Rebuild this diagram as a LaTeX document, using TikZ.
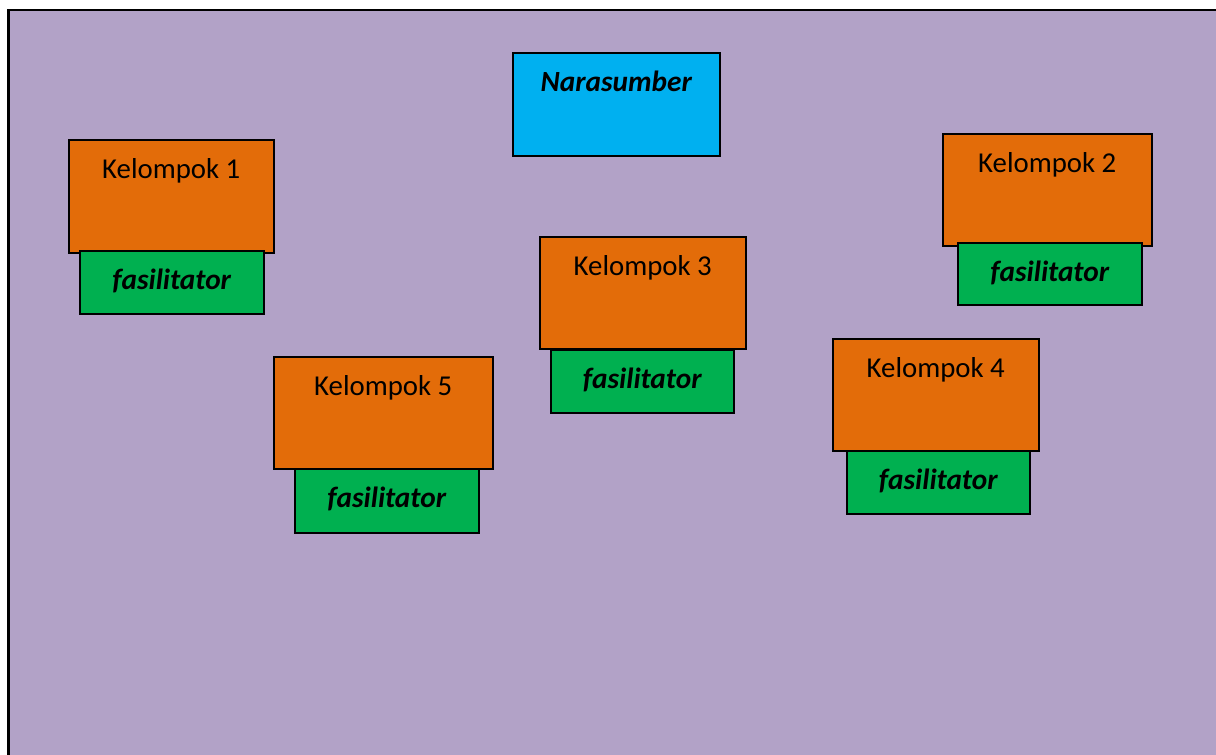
\documentclass[tikz,border=0pt]{standalone}
\usepackage{fontspec}
\setmainfont{Carlito}
\usetikzlibrary{calc}
\definecolor{lav}{HTML}{B2A2C7}
\definecolor{korange}{HTML}{E36C09}
\definecolor{fgreen}{HTML}{00B050}
\definecolor{nblue}{HTML}{00B0F0}
\tikzset{
  box/.style={draw=black, line width=1.5pt, anchor=north west, inner sep=0pt},
  kbox/.style={box, fill=korange},
  fbox/.style={box, fill=fgreen},
  nbox/.style={box, fill=nblue},
  ktext/.style={anchor=base, inner sep=0pt, font=\fontsize{28.8}{33}\selectfont},
  ftext/.style={anchor=base, inner sep=0pt, font=\fontsize{29.3}{33}\selectfont\bfseries\itshape},
}
\begin{document}
\begin{tikzpicture}[x=1pt,y=-1pt]
\useasboundingbox (0,0) rectangle (1216,755);
\begin{scope}
\clip (0,0) rectangle (1216,755);
\draw[fill=lav, draw=black, line width=2.2pt] (8.5,10) rectangle (1240,780);
\end{scope}
% Narasumber
\node[nbox, minimum width=207pt, minimum height=103pt] (nr) at (512,52) {};
\node[ftext] (nrt) at ($(nr.north)+(0,39)$) {Narasumber};
% Kelompok 1
\node[kbox, minimum width=205pt, minimum height=113pt] (k1) at (68,139) {};
\node[ktext] (k1t) at ($(k1.north)+(0,39)$) {Kelompok 1};
\node[fbox, minimum width=184pt, minimum height=63pt] (f1) at (79,250) {};
\node[ftext] (f1t) at ($(f1.north)+(0,39)$) {fasilitator};
% Kelompok 2
\node[kbox, minimum width=209pt, minimum height=112pt] (k2) at (942,133) {};
\node[ktext] (k2t) at ($(k2.north)+(0,39)$) {Kelompok 2};
\node[fbox, minimum width=184pt, minimum height=62pt] (f2) at (957,242) {};
\node[ftext] (f2t) at ($(f2.north)+(0,39)$) {fasilitator};
% Kelompok 3
\node[kbox, minimum width=206pt, minimum height=112pt] (k3) at (539,236) {};
\node[ktext] (k3t) at ($(k3.north)+(0,39)$) {Kelompok 3};
\node[fbox, minimum width=183pt, minimum height=63pt] (f3) at (550,349) {};
\node[ftext] (f3t) at ($(f3.north)+(0,39)$) {fasilitator};
% Kelompok 4
\node[kbox, minimum width=206pt, minimum height=112pt] (k4) at (832,338) {};
\node[ktext] (k4t) at ($(k4.north)+(0,39)$) {Kelompok 4};
\node[fbox, minimum width=183pt, minimum height=63pt] (f4) at (846,450) {};
\node[ftext] (f4t) at ($(f4.north)+(0,39)$) {fasilitator};
% Kelompok 5
\node[kbox, minimum width=219pt, minimum height=112pt] (k5) at (273,356) {};
\node[ktext] (k5t) at ($(k5.north)+(0,39)$) {Kelompok 5};
\node[fbox, minimum width=184pt, minimum height=64pt] (f5) at (294,468) {};
\node[ftext] (f5t) at ($(f5.north)+(0,39)$) {fasilitator};
\end{tikzpicture}
\end{document}
